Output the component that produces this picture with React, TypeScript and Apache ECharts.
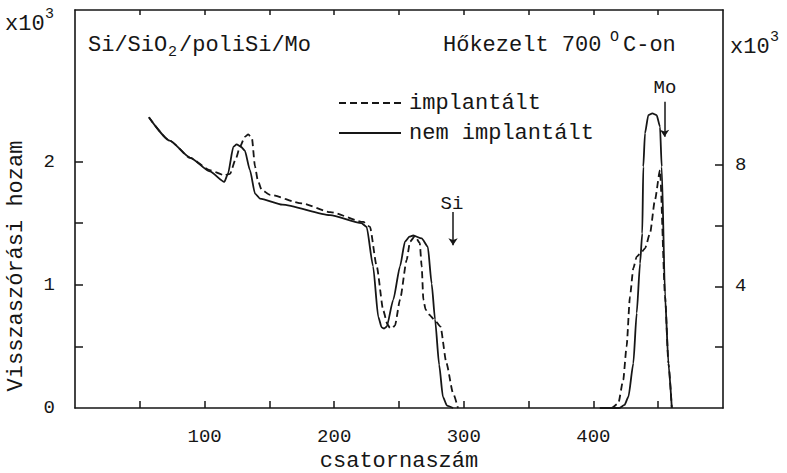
import React, { useEffect, useRef } from 'react';
import * as echarts from 'echarts';

const FONT = '"Liberation Mono", "DejaVu Sans Mono", monospace';
const INK = '#161616';

// axis ranges, ticks and labels
const xRange = [0, 500];
const leftRange = [0, 3.23];
const rightRange = [0, 13.1];
const xTickValues = [50, 100, 150, 200, 250, 300, 350, 400, 450];
const xLabelValues = [100, 200, 300, 400];
const leftTickValues = [0.5, 1, 1.5, 2];
const leftLabelValues = [0, 1, 2];
const rightTickValues = [2, 4, 6, 8];
const rightLabelValues = [4, 8];

// Si part (left axis, x10^3)
const implantaltSi: [number, number][] = [
  [57, 2.36], [73, 2.17], [89, 2.03], [104, 1.93], [115, 1.89], [119.6, 1.9], [124, 2.02],
  [127.3, 2.12], [131, 2.2], [133.7, 2.22], [136.5, 2.19], [138.9, 1.96], [141, 1.85],
  [144, 1.77], [150.5, 1.73], [175, 1.66], [197, 1.59], [222.5, 1.51], [227.6, 1.47],
  [232.8, 1.15], [237.9, 0.79], [241, 0.68], [243, 0.65], [245, 0.65], [246.9, 0.67],
  [250.8, 0.88], [255.9, 1.2], [258.5, 1.35], [262.3, 1.395], [266, 1.34], [267.5, 1.15],
  [268.8, 0.88], [270.5, 0.8], [273, 0.76], [277.8, 0.71], [282, 0.66], [286.6, 0.365],
  [291.7, 0.12], [295.5, 0],
];
const nemImplantaltSi: [number, number][] = [
  [57, 2.36], [73, 2.17], [89, 2.03], [104, 1.92], [115.2, 1.835], [118, 1.9], [122.2, 2.12],
  [124.7, 2.14], [128, 2.12], [131, 2.09], [135, 1.93], [138.9, 1.74], [142.7, 1.7],
  [160, 1.65], [196.8, 1.565], [221, 1.5], [225, 1.47], [230, 1.15], [234, 0.74],
  [236.6, 0.655], [238.5, 0.645], [240.5, 0.66], [245.6, 0.88], [250.8, 1.15], [254.6, 1.35],
  [258, 1.39], [261, 1.4], [267.5, 1.376], [272.2, 1.31], [275.2, 1.01], [277.8, 0.72],
  [281, 0.35], [283.9, 0.09], [287, 0.02], [291.7, 0],
];

// Mo part (right axis, x10^3)
const implantaltMo: [number, number][] = [
  [405, 0], [414, 0], [419.2, 0.15], [423, 0.92], [425.6, 2.02], [428.2, 3.66], [430.8, 4.6],
  [433.4, 4.98], [436.5, 5.1], [439.8, 5.25], [443.7, 5.75], [447.5, 6.85], [451.4, 7.83],
  [455.3, 3.69], [457.9, 1.47], [460.5, 0],
];
const nemImplantaltMo: [number, number][] = [
  [405, 0], [420, 0], [424, 0.1], [427, 0.37], [430.8, 1.47], [433.4, 3.12], [436, 4.76],
  [437.7, 5.75], [438.5, 7.94], [439.8, 9.04], [442.4, 9.64], [445.5, 9.7], [448.8, 9.64],
  [451.4, 9.26], [452.7, 7.94], [455.3, 3.69], [457.9, 1.47], [460.5, 0],
];

// annotation arrows (data coords)
const siArrow: [number, number][] = [[291.7, 1.59], [291.7, 1.32]];
const moArrow: [number, number][] = [[454.9, 10.08], [454.9, 8.93]];

const mkAxisLine = () => ({ show: true, onZero: false, lineStyle: { color: INK, width: 1.6 } });
const mkTick = (length: number, customValues?: number[]) => {
  const o: any = { show: true, inside: true, length, lineStyle: { color: INK, width: 1.5 } };
  if (customValues) o.customValues = customValues;
  return o;
};
const showOnly = (vals: number[]) => (v: number) => (vals.some((a) => Math.abs(a - v) < 1e-6) ? String(v) : '');

export default function App() {
  const ref = useRef<HTMLDivElement>(null);

  useEffect(() => {
    if (!ref.current) return;
    const chart = echarts.init(ref.current, null, { renderer: 'svg' });

    const curve = (name: string, data: [number, number][], yIdx: number, dashed: boolean, extra: any = {}) => ({
      name, type: 'line', xAxisIndex: 0, yAxisIndex: yIdx, data,
      symbol: 'none', showSymbol: false, smooth: 0.2, smoothMonotone: 'x',
      lineStyle: { color: INK, width: 1.8, type: dashed ? [7, 4] : 'solid' },
      itemStyle: { color: INK }, emphasis: { disabled: true }, ...extra,
    });
    const arrow = (pts: [number, number][]) => ({
      markLine: {
        silent: true, symbol: ['none', 'arrow'], symbolSize: 7, label: { show: false },
        lineStyle: { color: INK, width: 1.5, type: 'solid' },
        data: [[{ coord: pts[0] }, { coord: pts[1] }]],
      },
    });
    const t = (x: number, y: number, text: string, size: number, extra: any = {}) => ({
      type: 'text', x, y, ...extra,
      style: { text, font: `${size}px ${FONT}`, fill: INK, verticalAlign: 'middle', ...(extra.style || {}) },
    });

    const option: any = {
      animation: false,
      grid: { left: 75, right: 64, top: 10, bottom: 65, outerBoundsMode: 'none' },
      legend: {
        orient: 'vertical', left: 333, top: 87, itemWidth: 62, itemHeight: 14, itemGap: 8,
        itemStyle: { opacity: 0 },
        data: ['implantált', 'nem implantált'],
        textStyle: { fontFamily: FONT, fontSize: 22, color: INK, padding: [0, 0, 0, 3] },
      },
      xAxis: [
        {
          type: 'value', min: xRange[0], max: xRange[1], interval: 50, position: 'bottom',
          axisLine: mkAxisLine(), axisTick: mkTick(7, xTickValues),
          axisLabel: { formatter: showOnly(xLabelValues), fontSize: 19, color: INK, fontFamily: FONT, margin: 19 },
          splitLine: { show: false },
          name: 'csatornaszám', nameLocation: 'middle', nameGap: 42,
          nameTextStyle: { fontSize: 22, fontFamily: FONT, color: INK },
        },
        {
          type: 'value', min: xRange[0], max: xRange[1], interval: 50, position: 'top',
          axisLine: mkAxisLine(), axisTick: mkTick(5, xTickValues),
          axisLabel: { show: false }, splitLine: { show: false },
        },
      ],
      yAxis: [
        {
          type: 'value', min: leftRange[0], max: leftRange[1], interval: 0.5, position: 'left',
          axisLine: mkAxisLine(), axisTick: mkTick(8, leftTickValues),
          axisLabel: { formatter: showOnly(leftLabelValues), fontSize: 19, color: INK, fontFamily: FONT, margin: 20 },
          splitLine: { show: false },
        },
        {
          type: 'value', min: rightRange[0], max: rightRange[1], interval: 2, position: 'right',
          axisLine: mkAxisLine(), axisTick: mkTick(8, rightTickValues),
          axisLabel: { formatter: showOnly(rightLabelValues), fontSize: 19, color: INK, fontFamily: FONT, margin: 12 },
          splitLine: { show: false },
        },
      ],
      series: [
        curve('implantált', implantaltSi, 0, true),
        curve('implantált', implantaltMo, 1, true),
        curve('nem implantált', nemImplantaltSi, 0, false, arrow(siArrow)),
        curve('nem implantált', nemImplantaltMo, 1, false, arrow(moArrow)),
      ],
      graphic: [
        t(5, 24, 'x10', 22), t(45, 14, '3', 15),
        t(88, 45, 'Si/SiO', 22), t(168, 52, '2', 15), t(179, 45, '/poliSi/Mo', 22),
        t(443, 45, 'Hőkezelt 700', 22), t(610, 37, 'O', 15), t(623, 45, 'C-on', 22),
        t(730, 47, 'x10', 22), t(770, 37, '3', 15),
        t(452, 204, 'Si', 19, { style: { align: 'center' } }),
        t(665, 88, 'Mo', 19, { style: { align: 'center' } }),
        t(16, 266, 'Visszaszórási hozam', 22, { rotation: Math.PI / 2, style: { align: 'center' } }),
      ],
    };

    chart.setOption(option);
    return () => chart.dispose();
  }, []);

  return (
    <div
      ref={ref}
      style={{ position: 'fixed', left: 0, top: 0, width: 787, height: 473, background: '#ffffff' }}
    />
  );
}
